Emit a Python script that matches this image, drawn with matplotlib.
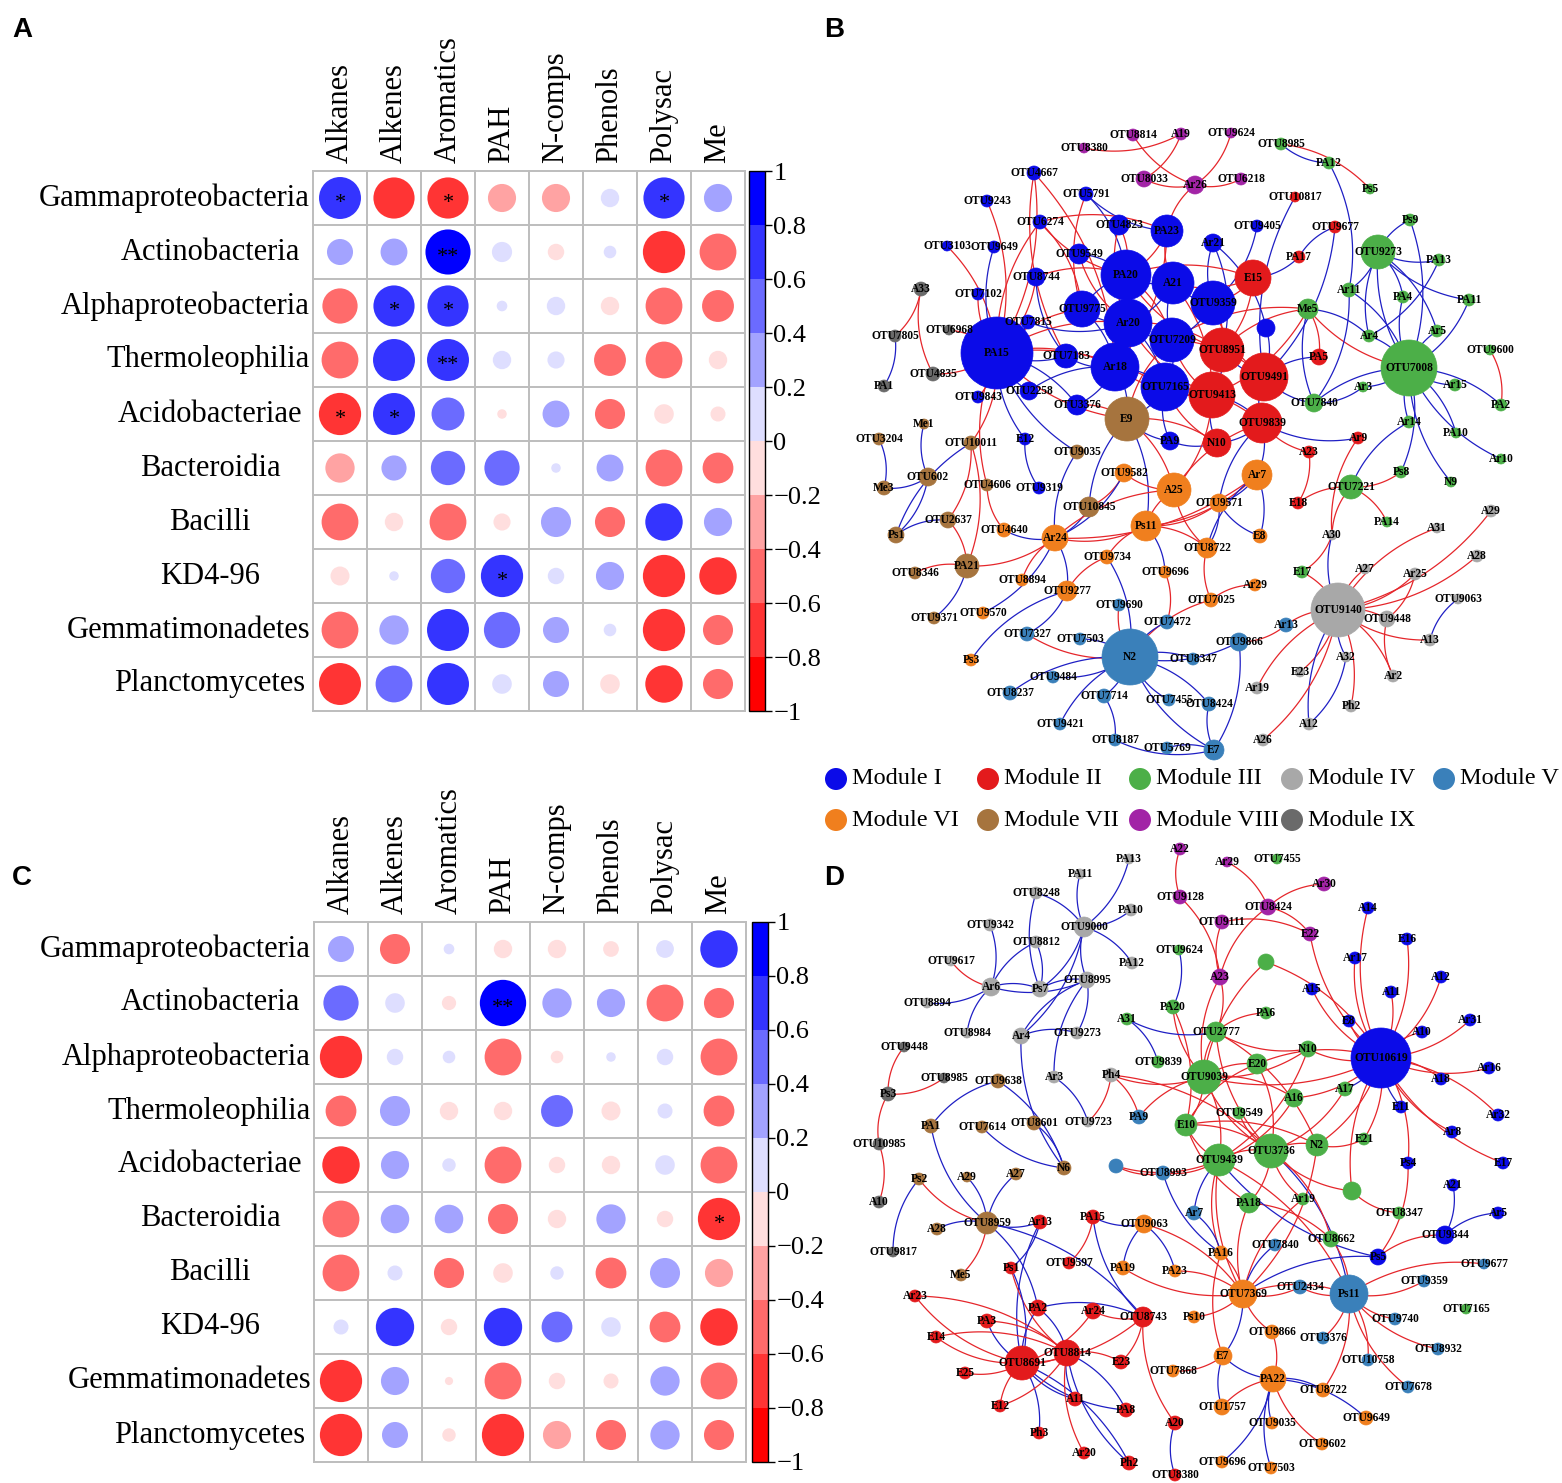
import numpy as np
import matplotlib
matplotlib.use("Agg")
import matplotlib.pyplot as plt
from matplotlib.patches import Circle
from matplotlib.colors import ListedColormap, BoundaryNorm
import matplotlib as mpl

plt.rcParams['font.family'] = ['Liberation Serif', 'DejaVu Serif']

W, H = 1562, 1483

# ---------------- correlation data ----------------
taxa = ["Gammaproteobacteria", "Actinobacteria", "Alphaproteobacteria", "Thermoleophilia",
        "Acidobacteriae", "Bacteroidia", "Bacilli", "KD4-96", "Gemmatimonadetes", "Planctomycetes"]
compounds = ["Alkanes", "Alkenes", "Aromatics", "PAH", "N-comps", "Phenols", "Polysac", "Me"]

corr_a = [
    [0.78, -0.75, -0.75, -0.35, -0.35, 0.15, 0.75, 0.35],
    [0.30, 0.32, 0.90, 0.18, -0.12, 0.07, -0.79, -0.60],
    [-0.55, 0.75, 0.75, 0.05, 0.15, -0.15, -0.60, -0.45],
    [-0.60, 0.78, 0.78, 0.15, 0.13, -0.45, -0.60, -0.15],
    [-0.79, 0.78, 0.48, -0.04, 0.32, -0.40, -0.17, -0.10],
    [-0.38, 0.28, 0.52, 0.55, 0.04, 0.32, -0.60, -0.42],
    [-0.60, -0.15, -0.60, -0.13, 0.40, -0.40, 0.62, 0.35],
    [-0.16, 0.04, 0.52, 0.79, 0.12, 0.35, -0.79, -0.62],
    [-0.60, 0.38, 0.78, 0.58, 0.30, 0.07, -0.79, -0.40],
    [-0.78, 0.60, 0.78, 0.17, 0.30, -0.17, -0.62, -0.40],
]
stars_a = [("Gammaproteobacteria", "Alkanes", "*"), ("Gammaproteobacteria", "Aromatics", "*"),
           ("Gammaproteobacteria", "Polysac", "*"), ("Actinobacteria", "Aromatics", "**"),
           ("Alphaproteobacteria", "Alkenes", "*"), ("Alphaproteobacteria", "Aromatics", "*"),
           ("Thermoleophilia", "Aromatics", "**"), ("Acidobacteriae", "Alkanes", "*"),
           ("Acidobacteriae", "Alkenes", "*"), ("KD4-96", "PAH", "*")]

corr_c = [
    [0.30, -0.40, 0.05, -0.15, -0.15, -0.11, 0.14, 0.62],
    [0.55, 0.17, -0.09, 0.95, 0.38, 0.35, -0.60, -0.40],
    [-0.79, 0.12, 0.07, -0.60, -0.07, 0.04, 0.12, -0.60],
    [-0.42, 0.40, -0.15, -0.15, 0.45, -0.16, 0.10, -0.42],
    [-0.62, 0.35, 0.08, -0.60, -0.12, -0.15, 0.17, -0.60],
    [-0.60, 0.36, 0.36, -0.40, -0.15, 0.38, -0.12, -0.79],
    [-0.60, 0.10, -0.40, -0.17, 0.08, -0.42, 0.40, -0.35],
    [0.10, 0.65, -0.12, 0.65, 0.42, 0.17, -0.42, -0.62],
    [-0.79, 0.35, -0.03, -0.60, -0.12, -0.10, 0.38, -0.60],
    [-0.79, 0.30, -0.08, -0.79, -0.35, -0.40, 0.38, -0.40],
]
stars_c = [("Actinobacteria", "PAH", "**"), ("Bacteroidia", "Me", "*")]

cbar_ticks = [-1, -0.8, -0.6, -0.4, -0.2, 0, 0.2, 0.4, 0.6, 0.8, 1]
bin_colors = ['#FF0000', '#FF3434', '#FF6B6B', '#FFA3A3', '#FFDEDE',
              '#DEDEFF', '#A3A3FF', '#6B6BFF', '#3434FF', '#0000FF']

# ---------------- network data (B) ----------------
mod_colors = {1: '#0B0BE8', 2: '#E31A1C', 3: '#4CAF48', 4: '#A8A8A8', 5: '#3A80BA',
              6: '#F07F1E', 7: '#A6743E', 8: '#A224A6', 9: '#6A6A6A'}
mod_names = {1: 'Module I', 2: 'Module II', 3: 'Module III', 4: 'Module IV', 5: 'Module V',
             6: 'Module VI', 7: 'Module VII', 8: 'Module VIII', 9: 'Module IX'}
legend_rows = [[1, 2, 3, 4, 5], [6, 7, 8, 9]]

b_mod1 = [("OTU4667", 1034, 173, 7), ("OTU5791", 1086, 194, 7), ("OTU9243", 987, 201, 6),
          ("OTU6274", 1040, 222, 7), ("OTU4823", 1119, 225, 10), ("PA23", 1167, 231, 16),
          ("OTU9405", 1257, 226, 6), ("Ar21", 1213, 243, 9), ("OTU3103", 947, 246, 5),
          ("OTU9649", 994, 247, 6), ("OTU9549", 1079, 254, 10), ("PA20", 1126, 275, 25),
          ("A21", 1173, 283, 21), ("OTU8744", 1036, 277, 9), ("OTU9359", 1213, 303, 22),
          ("OTU7102", 978, 294, 6), ("OTU9775", 1082, 309, 18), ("Ar20", 1128, 323, 24),
          ("OTU7815", 1028, 322, 7), ("_b1", 1266, 328, 9), ("OTU7209", 1172, 340, 22),
          ("PA15", 997, 353, 36), ("OTU7183", 1066, 356, 12), ("Ar18", 1115, 367, 24),
          ("OTU7165", 1165, 387, 24), ("OTU2258", 1029, 391, 9), ("OTU9843", 978, 397, 6),
          ("OTU3376", 1077, 405, 10), ("PA9", 1170, 441, 9), ("E12", 1025, 439, 6),
          ("OTU9319", 1039, 488, 6)]
b_mod2 = [("OTU10817", 1295, 197, 5), ("OTU9677", 1335, 227, 6), ("PA17", 1299, 257, 6),
          ("E15", 1253, 278, 18), ("PA5", 1319, 357, 8), ("OTU8951", 1222, 350, 22),
          ("OTU9491", 1264, 377, 24), ("OTU9413", 1212, 395, 23), ("OTU9839", 1262, 423, 20),
          ("N10", 1217, 443, 14), ("Ar9", 1358, 438, 6), ("A23", 1309, 452, 6), ("E18", 1298, 503, 6)]
b_mod3 = [("OTU8985", 1281, 144, 6), ("PA12", 1329, 163, 6), ("Ps5", 1370, 189, 5),
          ("Ps9", 1410, 220, 6), ("OTU9273", 1378, 252, 17), ("PA13", 1439, 260, 6),
          ("Ar11", 1349, 290, 7), ("PA4", 1403, 297, 6), ("PA11", 1469, 300, 6),
          ("Me5", 1308, 309, 10), ("Ar4", 1369, 336, 6), ("Ar5", 1437, 331, 6),
          ("OTU7008", 1409, 368, 28), ("OTU9600", 1490, 350, 5), ("Ar15", 1455, 385, 6),
          ("Ar3", 1363, 387, 5), ("OTU7840", 1314, 403, 9), ("PA2", 1501, 405, 6),
          ("Ar14", 1409, 422, 6), ("PA10", 1456, 433, 5), ("Ar10", 1501, 459, 5),
          ("OTU7221", 1351, 487, 12), ("Ps8", 1401, 472, 6), ("N9", 1451, 482, 5),
          ("PA14", 1387, 522, 5), ("E17", 1302, 572, 6)]
b_mod4 = [("A29", 1491, 511, 6), ("A31", 1437, 528, 5), ("A30", 1332, 535, 5),
          ("A28", 1477, 556, 6), ("A27", 1365, 569, 5), ("Ar25", 1415, 574, 6),
          ("OTU9140", 1338, 610, 27), ("OTU9063", 1458, 599, 5), ("OTU9448", 1387, 619, 8),
          ("A13", 1430, 640, 6), ("A32", 1346, 657, 5), ("E23", 1300, 672, 5),
          ("Ar2", 1393, 676, 6), ("Ar19", 1257, 688, 6), ("Ph2", 1351, 706, 6),
          ("A12", 1309, 724, 6), ("A26", 1263, 740, 6)]
b_mod5 = [("OTU9690", 1119, 605, 6), ("OTU7472", 1167, 622, 7), ("OTU7327", 1027, 634, 7),
          ("OTU7503", 1080, 639, 6), ("N2", 1130, 657, 28), ("Ar13", 1286, 625, 7),
          ("OTU9866", 1239, 642, 9), ("OTU8347", 1193, 659, 6), ("OTU9484", 1053, 677, 6),
          ("OTU8237", 1010, 693, 7), ("OTU7714", 1104, 696, 7), ("OTU7455", 1169, 700, 6),
          ("OTU8424", 1209, 704, 7), ("OTU9421", 1060, 724, 6), ("OTU8187", 1115, 740, 6),
          ("OTU5769", 1167, 748, 6), ("E7", 1214, 750, 10)]
b_mod6 = [("OTU9582", 1124, 473, 9), ("A25", 1174, 490, 17), ("Ar7", 1257, 475, 15),
          ("OTU9571", 1219, 503, 9), ("Ar24", 1055, 538, 13), ("Ps11", 1146, 526, 15),
          ("E8", 1260, 536, 7), ("OTU8722", 1207, 548, 10), ("OTU9734", 1107, 557, 7),
          ("OTU8894", 1022, 580, 6), ("OTU9696", 1165, 572, 6), ("OTU9277", 1067, 591, 10),
          ("Ar29", 1255, 585, 6), ("OTU7025", 1211, 600, 7), ("Ps3", 971, 660, 6),
          ("OTU4640", 1004, 530, 7), ("OTU9570", 983, 613, 6)]
b_mod7 = [("E9", 1127, 419, 22), ("Me1", 924, 424, 5), ("OTU3204", 879, 439, 6),
          ("OTU10011", 971, 443, 7), ("OTU9035", 1077, 452, 7), ("Me3", 884, 488, 7),
          ("OTU602", 928, 477, 9), ("OTU4606", 987, 485, 6), ("OTU10845", 1089, 507, 10),
          ("OTU2637", 948, 520, 8), ("Ps1", 896, 535, 8), ("PA21", 967, 566, 12),
          ("OTU8346", 915, 573, 6), ("OTU9371", 934, 618, 6)]
b_mod8 = [("OTU8814", 1133, 135, 6), ("A19", 1181, 134, 6), ("OTU9624", 1231, 133, 5),
          ("OTU8380", 1084, 148, 5), ("OTU8033", 1144, 179, 8), ("Ar26", 1195, 185, 9),
          ("OTU6218", 1241, 179, 6)]
b_mod9 = [("A33", 921, 289, 7), ("OTU6968", 949, 330, 5), ("OTU7805", 895, 336, 6),
          ("OTU4835", 933, 374, 7), ("PA1", 884, 386, 6)]

b_edges = [
    ("OTU8814", "Ar26", "r"), ("A19", "OTU8033", "r"), ("OTU8380", "A19", "r"), ("OTU9624", "Ar26", "r"),
    ("OTU8033", "Ar26", "r"), ("OTU6218", "Ar26", "r"), ("Ar26", "PA23", "r"),
    ("OTU8985", "Ps5", "r"), ("OTU8985", "PA12", "b"), ("PA12", "Ar11", "b"), ("Ps9", "OTU9273", "b"),
    ("Ps9", "OTU7008", "b"), ("OTU9273", "PA13", "b"), ("OTU9273", "PA4", "b"), ("OTU9273", "PA11", "b"),
    ("OTU9273", "Ar5", "b"), ("OTU9273", "OTU7008", "b"), ("OTU9273", "Ar11", "b"), ("OTU9273", "Ar4", "b"),
    ("PA13", "Ar4", "b"), ("OTU7008", "Ar4", "b"), ("OTU7008", "Ar5", "b"), ("OTU7008", "PA11", "b"),
    ("OTU7008", "PA4", "b"), ("OTU7008", "Ar11", "b"), ("OTU7008", "Me5", "r"), ("OTU7008", "Ar15", "b"),
    ("OTU7008", "Ar3", "b"), ("OTU7008", "OTU7840", "b"), ("OTU7008", "PA2", "b"), ("OTU7008", "Ar14", "b"),
    ("OTU7008", "PA10", "b"), ("OTU7008", "Ar10", "b"), ("OTU7008", "Ps8", "b"), ("OTU7008", "N9", "b"),
    ("OTU9600", "PA2", "r"), ("OTU7840", "Ar3", "b"), ("Ar11", "OTU7840", "b"), ("Me5", "OTU7840", "b"),
    ("Me5", "Ar4", "b"), ("Me5", "OTU8951", "r"), ("Me5", "OTU9413", "r"), ("Me5", "OTU7209", "r"),
    ("Me5", "PA5", "r"), ("OTU7221", "Ps8", "r"), ("OTU7221", "PA14", "r"), ("OTU7221", "E18", "r"),
    ("OTU7221", "Ar14", "b"), ("OTU7221", "A30", "r"), ("A30", "E17", "r"), ("Ar9", "A30", "r"),
    ("E15", "OTU9359", "r"), ("E15", "PA17", "b"), ("E15", "OTU8951", "r"), ("OTU10817", "OTU9491", "b"),
    ("OTU9677", "OTU9491", "b"), ("OTU9677", "PA17", "b"), ("OTU9405", "OTU9359", "b"), ("Ar21", "OTU9359", "b"),
    ("Ar21", "OTU8951", "b"), ("OTU8951", "OTU9491", "b"), ("OTU8951", "OTU9413", "b"), ("OTU9491", "OTU9839", "b"),
    ("OTU9413", "OTU9839", "b"), ("OTU9413", "N10", "b"), ("OTU9839", "N10", "b"), ("OTU9839", "A23", "r"),
    ("OTU9839", "Ar7", "b"), ("OTU9839", "Ar9", "b"), ("OTU9491", "PA5", "b"), ("OTU9491", "OTU7840", "b"),
    ("N10", "PA9", "b"), ("N10", "E9", "r"), ("A23", "E18", "r"), ("OTU9839", "OTU9571", "b"),
    ("OTU4667", "PA15", "r"), ("OTU4667", "OTU7183", "r"), ("OTU4667", "Ar18", "r"), ("OTU5791", "PA23", "b"),
    ("OTU5791", "PA20", "b"), ("OTU5791", "OTU9775", "r"), ("OTU9243", "PA15", "r"), ("OTU6274", "PA20", "r"),
    ("OTU6274", "OTU9775", "r"), ("OTU6274", "PA15", "r"), ("OTU4823", "PA20", "r"), ("OTU4823", "Ar20", "r"),
    ("PA23", "PA20", "r"), ("PA23", "A21", "r"), ("PA23", "Ar18", "r"), ("PA23", "OTU6274", "r"),
    ("OTU9549", "PA20", "b"), ("OTU9549", "Ar20", "r"), ("OTU3103", "PA15", "r"), ("OTU9649", "PA15", "b"),
    ("OTU8744", "PA20", "r"), ("OTU8744", "OTU7183", "b"), ("OTU8744", "PA15", "r"), ("PA20", "A21", "b"),
    ("PA20", "Ar20", "b"), ("PA20", "OTU9775", "b"), ("PA20", "OTU7209", "r"), ("PA20", "OTU8951", "r"),
    ("PA20", "E15", "r"), ("A21", "OTU9359", "b"), ("A21", "Ar20", "b"), ("A21", "OTU7209", "b"),
    ("A21", "OTU9413", "r"), ("A21", "E15", "r"), ("OTU9359", "OTU7209", "b"), ("OTU9359", "OTU9491", "r"),
    ("OTU9359", "OTU8951", "r"), ("OTU9775", "Ar20", "b"), ("OTU9775", "Ar18", "b"), ("OTU9775", "PA15", "r"),
    ("Ar20", "Ar18", "b"), ("Ar20", "OTU7209", "b"), ("Ar20", "OTU7165", "b"), ("Ar20", "OTU9413", "r"),
    ("Ar20", "OTU8951", "r"), ("Ar20", "PA15", "r"), ("OTU7815", "PA15", "b"), ("OTU7815", "Ar20", "b"),
    ("OTU7209", "OTU7165", "b"), ("OTU7209", "OTU9413", "r"), ("OTU7209", "OTU9491", "r"), ("OTU7209", "E9", "r"),
    ("PA15", "Ar18", "r"), ("PA15", "OTU7183", "b"), ("PA15", "OTU7165", "r"), ("PA15", "OTU2258", "b"),
    ("PA15", "OTU3376", "b"), ("PA15", "E9", "r"), ("PA15", "OTU9843", "r"), ("OTU7183", "Ar18", "b"),
    ("Ar18", "OTU7165", "b"), ("Ar18", "OTU9413", "r"), ("Ar18", "E9", "b"), ("OTU7165", "OTU9413", "r"),
    ("OTU7165", "OTU9839", "r"), ("OTU7165", "N10", "r"), ("OTU7165", "E9", "b"), ("OTU7165", "PA9", "b"),
    ("OTU2258", "Ar18", "b"), ("OTU3376", "Ar18", "b"), ("OTU3376", "E9", "r"), ("OTU7102", "PA15", "r"),
    ("E12", "PA15", "b"), ("E12", "OTU9319", "b"), ("_b1", "OTU9491", "b"), ("_b1", "Ar21", "b"),
    ("A33", "OTU7805", "r"), ("A33", "OTU4835", "r"), ("OTU7805", "PA1", "b"), ("OTU4835", "PA15", "r"),
    ("OTU6968", "PA15", "r"), ("E9", "PA9", "b"), ("E9", "A25", "r"), ("E9", "OTU10845", "b"),
    ("E9", "Ps11", "b"), ("Me1", "OTU602", "b"), ("OTU3204", "Me3", "b"), ("Me3", "OTU602", "b"),
    ("OTU602", "Ps1", "b"), ("OTU10011", "PA15", "r"), ("OTU10011", "OTU2637", "r"), ("OTU10011", "Ps1", "b"),
    ("OTU10011", "PA21", "r"), ("OTU4606", "OTU4640", "r"), ("OTU4606", "PA15", "r"), ("OTU2637", "Ps1", "b"),
    ("OTU2637", "PA21", "r"), ("PA21", "OTU8346", "r"), ("PA21", "OTU9371", "b"), ("PA21", "Ar24", "r"),
    ("OTU9035", "PA15", "b"), ("OTU9035", "Ar24", "b"), ("OTU10845", "Ar24", "b"), ("OTU10845", "OTU9582", "r"),
    ("Ar24", "OTU4640", "b"), ("Ar24", "Ps11", "r"), ("Ar24", "A25", "r"), ("Ar24", "OTU9582", "b"),
    ("Ar24", "OTU9277", "b"), ("Ar24", "OTU8894", "r"), ("Ar24", "OTU9570", "b"), ("Ar24", "Ar7", "r"),
    ("Ps11", "A25", "r"), ("Ps11", "OTU9571", "r"), ("Ps11", "OTU8722", "r"), ("Ps11", "OTU9734", "r"),
    ("Ps11", "OTU9696", "b"), ("Ps11", "Ar7", "r"), ("A25", "OTU9582", "r"), ("A25", "OTU8722", "r"),
    ("A25", "OTU9839", "r"), ("A25", "OTU9413", "r"), ("Ar7", "OTU9571", "b"), ("Ar7", "OTU8722", "b"),
    ("Ar7", "E8", "b"), ("OTU9571", "E8", "b"), ("OTU9571", "OTU8722", "b"), ("OTU8722", "OTU7025", "r"),
    ("OTU7025", "Ar29", "r"), ("OTU7025", "N2", "r"), ("OTU9734", "N2", "b"), ("OTU9734", "OTU9277", "r"),
    ("OTU9277", "OTU7327", "b"), ("OTU9277", "Ps3", "b"), ("OTU9696", "OTU7472", "r"), ("OTU9690", "N2", "r"),
    ("N2", "OTU7327", "r"), ("N2", "OTU7503", "b"), ("N2", "OTU8347", "b"), ("N2", "OTU9866", "b"),
    ("N2", "OTU9484", "b"), ("N2", "OTU8237", "b"), ("N2", "OTU7714", "b"), ("N2", "OTU7455", "b"),
    ("N2", "OTU8424", "b"), ("N2", "OTU9421", "b"), ("N2", "OTU7472", "b"), ("N2", "E7", "b"),
    ("OTU7714", "OTU8187", "b"), ("OTU8187", "E7", "b"), ("OTU5769", "E7", "b"), ("OTU8424", "E7", "b"),
    ("OTU9866", "E7", "b"), ("OTU9866", "Ar13", "r"), ("Ar13", "OTU9140", "r"),
    ("OTU9140", "A29", "r"), ("OTU9140", "A31", "r"), ("OTU9140", "A28", "r"), ("OTU9140", "A27", "r"),
    ("OTU9140", "Ar25", "r"), ("OTU9140", "A30", "b"), ("OTU9140", "E17", "r"), ("OTU9140", "OTU9448", "r"),
    ("OTU9140", "A13", "r"), ("OTU9140", "Ar2", "r"), ("OTU9140", "A32", "b"), ("OTU9140", "E23", "r"),
    ("OTU9140", "Ar19", "r"), ("OTU9140", "Ph2", "r"), ("OTU9140", "A12", "b"), ("OTU9140", "A26", "r"),
    ("OTU9063", "A13", "b"), ("Ar25", "OTU9448", "r"), ("OTU9448", "Ar2", "r"), ("A32", "A12", "b"),
]

# ---------------- network data (D) ----------------
d_mod1 = [("A14", 1368, 908, 6), ("E16", 1407, 939, 6), ("Ar17", 1355, 958, 6), ("A12", 1441, 977, 6),
          ("A15", 1312, 989, 6), ("A11#2", 1391, 992, 6), ("E8", 1349, 1021, 6), ("Ar31", 1470, 1020, 6),
          ("A10#2", 1422, 1032, 6), ("OTU10619", 1381, 1058, 30), ("Ar16", 1489, 1068, 6),
          ("A18", 1441, 1079, 6), ("E11", 1401, 1107, 6), ("Ar32", 1498, 1115, 6), ("Ar8", 1452, 1132, 6),
          ("Ps4", 1408, 1163, 6), ("E17", 1503, 1163, 6), ("A21", 1453, 1185, 6), ("Ar5", 1498, 1213, 6),
          ("OTU9344", 1445, 1235, 9), ("Ps5", 1378, 1257, 8)]
d_mod2 = [("Ar13", 1040, 1222, 7), ("PA15", 1093, 1217, 7), ("OTU9597", 1069, 1263, 6),
          ("Ps1", 1011, 1268, 6), ("Ar23", 915, 1296, 6), ("PA2", 1038, 1308, 8), ("Ar24", 1093, 1311, 8),
          ("OTU8743", 1143, 1317, 10), ("PA3", 987, 1321, 7), ("E14", 936, 1337, 6),
          ("OTU8691", 1022, 1363, 17), ("OTU8814", 1067, 1353, 13), ("E23", 1121, 1362, 7),
          ("E25", 965, 1373, 6), ("A11", 1075, 1399, 7), ("E12", 1000, 1406, 6), ("PA8", 1126, 1410, 7),
          ("A20", 1175, 1423, 7), ("Ph3", 1039, 1433, 6), ("Ar20", 1084, 1453, 6), ("Ph2", 1129, 1463, 7),
          ("OTU8380", 1175, 1475, 6)]
d_mod3 = [("OTU7455", 1277, 859, 5), ("OTU9624", 1179, 950, 5), ("_g1", 1266, 962, 8),
          ("PA20", 1173, 1007, 7), ("A31", 1127, 1019, 6), ("PA6", 1266, 1013, 6), ("OTU2777", 1216, 1032, 10),
          ("N10", 1308, 1049, 8), ("OTU9839", 1158, 1062, 6), ("E20", 1257, 1064, 10),
          ("OTU9039", 1204, 1077, 17), ("A17", 1345, 1089, 7), ("A16", 1294, 1098, 9),
          ("OTU9549", 1239, 1113, 6), ("E10", 1186, 1125, 11), ("N2", 1317, 1145, 11),
          ("OTU3736", 1271, 1151, 17), ("E21", 1364, 1139, 6), ("OTU9439", 1219, 1160, 16),
          ("PA18", 1249, 1203, 10), ("Ar19", 1303, 1199, 6), ("_g2", 1352, 1191, 9),
          ("OTU8347", 1399, 1213, 6), ("OTU8662", 1331, 1239, 8), ("OTU7165", 1466, 1309, 5)]
d_mod4 = [("PA13", 1129, 859, 5), ("PA11", 1080, 874, 5), ("OTU8248", 1036, 893, 6), ("PA10", 1131, 910, 6),
          ("OTU9000", 1084, 927, 10), ("OTU9342", 990, 925, 6), ("OTU8812", 1036, 942, 6),
          ("OTU9617", 951, 961, 5), ("PA12", 1132, 963, 6), ("Ar6", 991, 987, 9), ("Ps7", 1040, 989, 8),
          ("OTU8995", 1087, 980, 8), ("OTU8894", 927, 1003, 5), ("OTU8984", 967, 1033, 5),
          ("Ar4", 1021, 1036, 8), ("OTU9273", 1077, 1033, 6), ("Ar3", 1054, 1077, 6), ("Ph4", 1111, 1075, 7),
          ("OTU9723", 1088, 1122, 5)]
d_mod5 = [("PA9", 1139, 1117, 7), ("_v1", 1116, 1166, 7), ("OTU8993", 1163, 1173, 7), ("Ar7", 1194, 1213, 7),
          ("OTU7840", 1275, 1245, 6), ("OTU2434", 1300, 1287, 7), ("Ps11", 1349, 1294, 19),
          ("OTU9359", 1424, 1281, 6), ("OTU9740", 1395, 1319, 6), ("OTU3376", 1323, 1338, 6),
          ("OTU8932", 1438, 1349, 6), ("OTU10758", 1368, 1360, 6), ("OTU7678", 1408, 1387, 6),
          ("OTU9677", 1484, 1264, 5)]
d_mod6 = [("OTU9063", 1144, 1224, 9), ("PA19", 1123, 1268, 7), ("PA23", 1175, 1271, 6), ("Ps10", 1194, 1317, 6),
          ("OTU7369", 1243, 1294, 14), ("OTU9866", 1272, 1332, 7), ("E7", 1223, 1356, 9),
          ("OTU7868", 1173, 1371, 6), ("PA22", 1273, 1379, 13), ("OTU8722", 1323, 1390, 7),
          ("OTU1757", 1222, 1407, 8), ("OTU9035", 1272, 1423, 6), ("OTU9649", 1366, 1418, 7),
          ("OTU9602", 1322, 1444, 6), ("OTU9696", 1222, 1462, 6), ("OTU7503", 1271, 1468, 6),
          ("PA16", 1221, 1253, 7)]
d_mod7 = [("OTU9638", 998, 1081, 7), ("PA1", 931, 1126, 7), ("OTU7614", 982, 1127, 6), ("OTU8601", 1034, 1123, 7),
          ("N6", 1064, 1168, 7), ("Ps2", 919, 1179, 6), ("A29", 967, 1177, 5), ("A27", 1016, 1174, 6),
          ("OTU8959", 987, 1223, 11), ("A28", 937, 1229, 6), ("Me5", 961, 1275, 6)]
d_mod8 = [("A22", 1180, 849, 6), ("Ar29", 1227, 862, 5), ("Ar30", 1324, 884, 7), ("OTU9128", 1180, 897, 7),
          ("OTU8424", 1268, 907, 8), ("OTU9111", 1222, 922, 7), ("E22", 1310, 934, 7), ("A23", 1220, 977, 8)]
d_mod9 = [("OTU9448", 904, 1047, 5), ("OTU8985", 944, 1078, 5), ("Ps3", 888, 1094, 7),
          ("OTU10985", 879, 1144, 6), ("A10", 879, 1202, 6), ("OTU9817", 893, 1252, 5)]

d_edges = [
    ("OTU9000", "PA13", "b"), ("OTU9000", "PA11", "b"), ("OTU9000", "PA10", "b"), ("OTU9000", "PA12", "b"),
    ("OTU9000", "OTU8248", "b"), ("OTU9000", "Ps7", "b"), ("OTU9000", "OTU8995", "b"), ("OTU9000", "Ar4", "b"),
    ("OTU8248", "Ps7", "b"), ("OTU9342", "Ar6", "b"), ("OTU8812", "Ar6", "b"), ("OTU8812", "Ps7", "b"),
    ("OTU9617", "Ar6", "r"), ("Ar6", "OTU8894", "b"), ("Ar6", "OTU8984", "b"), ("Ar6", "Ps7", "b"),
    ("Ar6", "OTU8995", "b"), ("Ps7", "OTU8995", "b"), ("OTU8995", "Ar4", "b"), ("OTU8995", "OTU9273", "b"),
    ("OTU8995", "Ar3", "b"), ("Ar4", "OTU9273", "b"), ("Ar4", "N6", "b"), ("Ar3", "OTU9723", "b"),
    ("OTU9723", "Ph4", "r"), ("Ph4", "PA9", "r"), ("Ph4", "OTU9039", "r"), ("Ph4", "OTU3736", "r"),
    ("OTU9448", "Ps3", "r"), ("OTU8985", "Ps3", "r"), ("Ps3", "OTU10985", "r"), ("OTU10985", "A10", "r"),
    ("OTU9638", "PA1", "b"), ("OTU9638", "N6", "b"), ("OTU7614", "N6", "b"), ("OTU8601", "N6", "b"),
    ("PA1", "OTU8959", "b"), ("OTU8959", "Ps2", "r"), ("OTU8959", "A29", "b"), ("OTU8959", "A27", "b"),
    ("OTU8959", "A28", "b"), ("OTU8959", "Me5", "r"), ("OTU8959", "Ar13", "b"), ("OTU8959", "PA2", "b"),
    ("Ps2", "OTU9817", "b"), ("OTU8959", "OTU8743", "b"),
    ("A22", "OTU9128", "r"), ("Ar29", "OTU8424", "r"), ("Ar30", "OTU8424", "r"), ("OTU8424", "E22", "r"),
    ("OTU8424", "A23", "r"), ("OTU9128", "A23", "r"), ("OTU9111", "A23", "r"), ("OTU9111", "E22", "r"),
    ("E22", "OTU10619", "r"), ("A23", "OTU2777", "r"), ("A23", "OTU9039", "r"),
    ("OTU9624", "PA20", "b"), ("PA20", "OTU9039", "r"), ("PA20", "E10", "r"), ("A31", "OTU2777", "b"),
    ("A31", "OTU9839", "b"), ("OTU2777", "OTU9039", "r"), ("OTU2777", "PA6", "r"), ("OTU2777", "N10", "r"),
    ("OTU2777", "N2", "r"), ("OTU2777", "OTU3736", "r"), ("_g1", "OTU10619", "r"), ("_g1", "OTU9039", "r"),
    ("OTU9039", "E20", "r"), ("OTU9039", "N10", "r"), ("OTU9039", "E10", "r"), ("OTU9039", "OTU3736", "r"),
    ("OTU9039", "A16", "r"), ("OTU9039", "OTU10619", "r"), ("OTU9039", "OTU9439", "r"), ("OTU9039", "PA9", "r"),
    ("E20", "OTU3736", "r"), ("E20", "E10", "r"), ("E20", "OTU10619", "r"), ("N10", "OTU10619", "r"),
    ("N10", "OTU9439", "r"), ("A16", "OTU10619", "r"), ("A16", "OTU9439", "r"), ("A17", "OTU10619", "b"),
    ("A17", "OTU3736", "r"), ("OTU9549", "OTU3736", "r"), ("E10", "OTU3736", "r"), ("E10", "OTU9439", "r"),
    ("E10", "N2", "r"), ("E10", "PA18", "r"), ("OTU3736", "N2", "r"), ("OTU3736", "OTU9439", "r"),
    ("OTU3736", "PA18", "r"), ("OTU3736", "Ar19", "r"), ("OTU3736", "Ps11", "b"), ("OTU3736", "_g2", "r"),
    ("OTU3736", "OTU8662", "r"), ("N2", "E21", "r"), ("N2", "OTU7369", "r"), ("OTU9439", "PA16", "r"),
    ("OTU9439", "OTU8993", "r"), ("OTU9439", "Ar7", "b"), ("OTU9439", "_v1", "r"), ("OTU9439", "OTU7369", "r"),
    ("OTU9439", "Ps11", "r"), ("PA18", "OTU7369", "r"), ("PA18", "OTU8662", "r"), ("Ar19", "OTU7369", "r"),
    ("_g2", "OTU10619", "r"), ("_g2", "OTU8347", "r"), ("OTU8662", "Ps11", "r"), ("E21", "OTU10619", "r"),
    ("OTU10619", "A14", "r"), ("OTU10619", "E16", "r"), ("OTU10619", "Ar17", "r"), ("OTU10619", "A12", "r"),
    ("OTU10619", "A15", "r"), ("OTU10619", "A11#2", "r"), ("OTU10619", "E8", "r"), ("OTU10619", "Ar31", "r"),
    ("OTU10619", "A10#2", "r"), ("OTU10619", "Ar16", "r"), ("OTU10619", "A18", "r"), ("OTU10619", "E11", "b"),
    ("OTU10619", "Ar32", "r"), ("OTU10619", "Ar8", "r"), ("OTU10619", "Ps4", "r"), ("OTU10619", "E17", "r"),
    ("OTU10619", "N2", "r"), ("OTU9344", "A21", "b"), ("OTU9344", "Ar5", "b"), ("OTU9344", "Ps5", "r"),
    ("Ps4", "Ps5", "r"), ("Ps5", "OTU7369", "b"), ("Ps5", "OTU9439", "b"),
    ("Ps11", "OTU7369", "r"), ("Ps11", "OTU2434", "r"), ("Ps11", "OTU9359", "r"), ("Ps11", "OTU9677", "r"),
    ("Ps11", "OTU9740", "r"), ("Ps11", "OTU3376", "r"), ("Ps11", "OTU8932", "r"), ("Ps11", "OTU10758", "r"),
    ("Ps11", "OTU7678", "r"), ("Ps11", "OTU8722", "r"), ("OTU7369", "OTU2434", "r"), ("OTU7369", "OTU7840", "b"),
    ("OTU7369", "PA16", "r"), ("OTU7369", "PA19", "r"), ("OTU7369", "PA23", "r"), ("OTU7369", "Ps10", "r"),
    ("OTU7369", "OTU9866", "r"), ("OTU7369", "E7", "b"), ("OTU7369", "OTU9063", "r"), ("OTU9063", "PA15", "b"),
    ("OTU9063", "PA19", "b"), ("OTU9063", "PA23", "b"), ("PA16", "Ar7", "b"), ("OTU9866", "PA22", "r"),
    ("E7", "PA22", "b"), ("E7", "OTU7868", "r"), ("E7", "OTU1757", "b"), ("E7", "PA16", "r"),
    ("PA22", "OTU1757", "r"), ("PA22", "OTU8722", "b"), ("PA22", "OTU9035", "b"), ("PA22", "OTU9649", "b"),
    ("PA22", "OTU9602", "r"), ("PA22", "OTU9696", "b"), ("PA22", "OTU7503", "b"),
    ("PA15", "OTU9597", "r"), ("PA15", "OTU8743", "b"), ("Ar13", "Ps1", "b"), ("Ar13", "OTU8691", "b"),
    ("OTU8743", "Ar24", "r"), ("OTU8743", "PA2", "b"), ("OTU8743", "E23", "r"), ("OTU8743", "A20", "r"),
    ("OTU8743", "OTU8691", "r"), ("Ps1", "OTU8814", "r"), ("Ps1", "OTU8691", "b"), ("Ar23", "OTU8691", "r"),
    ("Ar23", "OTU8814", "r"), ("PA2", "OTU8691", "b"), ("PA2", "OTU8814", "b"), ("PA3", "OTU8691", "b"),
    ("PA3", "OTU8814", "r"), ("E14", "OTU8691", "r"), ("E14", "OTU8814", "r"), ("OTU8691", "OTU8814", "r"),
    ("OTU8691", "E25", "r"), ("OTU8691", "E12", "r"), ("OTU8691", "Ph3", "b"), ("OTU8691", "PA8", "b"),
    ("OTU8691", "Ph2", "b"), ("OTU8691", "A11", "b"), ("OTU8814", "E23", "r"), ("OTU8814", "A11", "b"),
    ("OTU8814", "E12", "r"), ("OTU8814", "Ar20", "r"), ("OTU8814", "PA8", "b"), ("OTU8814", "Ph2", "b"),
    ("Ar24", "OTU8691", "r"), ("A20", "OTU8380", "b"), ("OTU8993", "_v1", "r"), ("OTU8993", "PA16", "b"),
]

b_modules = {1: b_mod1, 2: b_mod2, 3: b_mod3, 4: b_mod4, 5: b_mod5, 6: b_mod6, 7: b_mod7, 8: b_mod8, 9: b_mod9}
d_modules = {1: d_mod1, 2: d_mod2, 3: d_mod3, 4: d_mod4, 5: d_mod5, 6: d_mod6, 7: d_mod7, 8: d_mod8, 9: d_mod9}

edge_colors = {'r': '#E5262B', 'b': '#1F1FC4'}

cmap = ListedColormap(bin_colors)
norm = BoundaryNorm(np.linspace(-1, 1, 11), cmap.N)

fig = plt.figure(figsize=(W / 100, H / 100), dpi=100)
ov = fig.add_axes([0, 0, 1, 1])
ov.set_xlim(0, W)
ov.set_ylim(H, 0)
ov.axis('off')
renderer = fig.canvas.get_renderer()


def corr_panel(vals, stars, grid, cbar):
    x0, y0, x1, y1 = grid
    r = np.array(vals)
    nr, nc = r.shape
    cell = (x1 - x0) / nc
    ax = fig.add_axes([x0 / W, 1 - y1 / H, (x1 - x0) / W, (y1 - y0) / H])
    ax.set_xlim(0, nc)
    ax.set_ylim(nr, 0)
    ax.axis('off')
    for i in range(nr):
        for j in range(nc):
            v = r[i, j]
            ax.add_patch(Circle((j + 0.5, i + 0.5), 0.44 * np.sqrt(abs(v)),
                                fc=cmap(norm(v)), ec='none', zorder=2))
    for k in range(nc + 1):
        ax.plot([k, k], [0, nr], color='#BDBDBD', lw=1.4, zorder=1, clip_on=False)
    for k in range(nr + 1):
        ax.plot([0, nc], [k, k], color='#BDBDBD', lw=1.4, zorder=1, clip_on=False)
    for tname, cname, s in stars:
        i, j = taxa.index(tname), compounds.index(cname)
        ax.text(j + 0.5, i + 0.6, s, ha='center', va='center', fontsize=16, zorder=3)
    for j, c in enumerate(compounds):
        ov.text(x0 + (j + 0.5) * cell, y0 - 8, c, rotation=90, ha='center', va='bottom', fontsize=22)
    for i, t in enumerate(taxa):
        txt = ov.text(210, y0 + (i + 0.5) * cell, t, ha='center', va='center', fontsize=22)
        w = txt.get_window_extent(renderer).width
        if 210 + w / 2 > x0 - 3:
            txt.set_x(x0 - 3 - w / 2)
    cx0, cx1 = cbar
    cax = fig.add_axes([cx0 / W, 1 - y1 / H, (cx1 - cx0) / W, (y1 - y0) / H])
    cb = mpl.colorbar.ColorbarBase(cax, cmap=cmap, norm=norm, ticks=cbar_ticks)
    cb.ax.set_yticklabels([('%g' % t).replace('-', '\u2212') for t in cbar_ticks])
    cb.ax.tick_params(labelsize=19, length=5, width=1, pad=1)
    cb.outline.set_linewidth(1.0)


corr_panel(corr_a, stars_a, (313, 171, 745, 711), (749, 765))
corr_panel(corr_c, stars_c, (314, 922, 746, 1462), (752, 768))


def network(modules, edges):
    nodes = {}
    for m, lst in modules.items():
        for key, x, y, rad in lst:
            nodes[key] = (x, y, rad, m)
    t = np.linspace(0, 1, 30)
    for k, (a, b, c) in enumerate(edges):
        xa, ya = nodes[a][:2]
        xb, yb = nodes[b][:2]
        rad = 0.18 if k % 2 == 0 else -0.18
        cx = (xa + xb) / 2 - rad * (yb - ya)
        cy = (ya + yb) / 2 + rad * (xb - xa)
        bx = (1 - t) ** 2 * xa + 2 * (1 - t) * t * cx + t ** 2 * xb
        by = (1 - t) ** 2 * ya + 2 * (1 - t) * t * cy + t ** 2 * yb
        ov.plot(bx, by, color=edge_colors[c], lw=0.9, zorder=1)
    for key, (x, y, rad, m) in nodes.items():
        ov.add_patch(Circle((x, y), rad, fc=mod_colors[m], ec=mod_colors[m], lw=0.5, zorder=2))
        label = '' if key.startswith('_') else key.split('#')[0]
        ov.text(x, y, label, ha='center', va='center', fontsize=8.3, fontweight='bold', zorder=3)


network(b_modules, b_edges)
network(d_modules, d_edges)

# module legend under network B, two rows on a fixed column grid
for row, mods in enumerate(legend_rows):
    for col, m in enumerate(mods):
        lx, ly = 836 + 152 * col, 779 + 41 * row
        ov.add_patch(Circle((lx, ly), 11, fc=mod_colors[m], ec='none'))
        ov.text(lx + 16, ly, mod_names[m], ha='left', va='center', fontsize=17.5)

for lab, x, y in [("A", 22, 30), ("B", 834, 30), ("C", 22, 878), ("D", 834, 878)]:
    ov.text(x, y, lab, ha='center', va='center', fontsize=20, fontweight='bold', family='Liberation Sans')

fig.savefig('out.png', dpi=100)
